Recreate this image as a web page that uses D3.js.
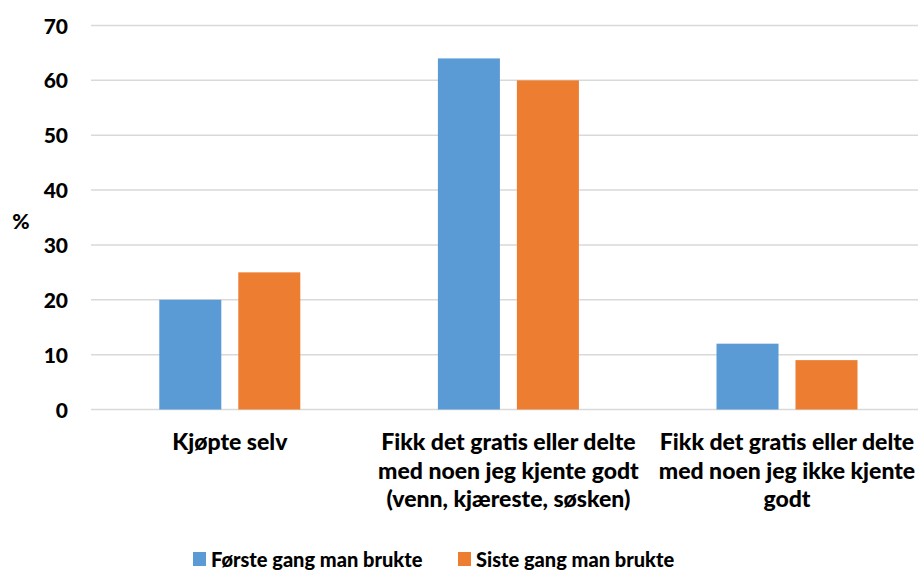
<!DOCTYPE html>
<html>
<head>
<meta charset="utf-8">
<script src="https://cdn.jsdelivr.net/npm/d3@7"></script>
<style>
  body { margin: 0; background: #fff; }
  text { font-family: Lato, "Open Sans", sans-serif; font-weight: 900; fill: #000; }
</style>
</head>
<body>
<div id="chart"></div>
<script>
// data
var categories = [
    ["Kjøpte selv"],
    ["Fikk det gratis eller delte", "med noen jeg kjente godt", "(venn, kjæreste, søsken)"],
    ["Fikk det gratis eller delte", "med noen jeg ikke kjente", "godt"]
];
var seriesNames = ["Første gang man brukte", "Siste gang man brukte"];
var firstTime = [20, 64, 12];
var lastTime = [25, 60, 9];
var yTicks = [0, 10, 20, 30, 40, 50, 60, 70];
var colors = ["#5B9BD5", "#ED7D31"];

var width = 918, height = 571;

var svg = d3.select("#chart")
    .append("svg")
    .attr("width", width)
    .attr("height", height);

var catIdx = categories.map(function(d, i) { return i; });

// x scales
var step = 278.6;
var x0 = d3.scaleBand()
    .domain(catIdx)
    .range([90.5, 90.5 + step * categories.length])
    .padding(0);

var x1 = d3.scaleBand()
    .domain([0, 1])
    .range([0, x0.bandwidth()])
    .paddingInner(0.215)
    .paddingOuter(0.871);

// y scale
var y = d3.scaleLinear()
    .domain([0, 70])
    .range([409.5, 25.5]);

// gridlines
svg.append("g")
    .selectAll("line")
    .data(yTicks)
    .enter()
    .append("line")
    .attr("x1", 91)
    .attr("x2", width)
    .attr("y1", function(d) { return y(d); })
    .attr("y2", function(d) { return y(d); })
    .style("stroke", "#d9d9d9")
    .style("stroke-width", 1.5);

// y axis labels
var yAxis = svg.append("g")
    .attr("transform", "translate(76,0)")
    .call(d3.axisLeft(y).tickValues(yTicks).tickSize(0).tickPadding(8));
yAxis.select(".domain").remove();
yAxis.selectAll("text")
    .style("font-family", "Lato, sans-serif")
    .style("font-weight", "900")
    .style("font-size", "21px")
    .style("fill", "#000")
    .attr("dy", "0.36em");

svg.append("text")
    .attr("x", 21)
    .attr("y", 229)
    .attr("text-anchor", "middle")
    .style("font-size", "21px")
    .text("%");

// bars
var rows = catIdx.map(function(i) {
    return {cat: i, values: [firstTime[i], lastTime[i]]};
});

var groups = svg.selectAll(".grp")
    .data(rows)
    .enter()
    .append("g")
    .attr("class", "grp")
    .attr("transform", function(d) { return "translate(" + x0(d.cat) + ",0)"; });

groups.selectAll("rect")
    .data(function(d) { return d.values.map(function(v, k) { return {k: k, v: v}; }); })
    .enter()
    .append("rect")
    .attr("x", function(d) { return x1(d.k); })
    .attr("y", function(d) { return y(d.v); })
    .attr("width", x1.bandwidth())
    .attr("height", function(d) { return y(0) - y(d.v); })
    .style("fill", function(d) { return colors[d.k]; });

// category labels
var catLabels = svg.selectAll(".cat")
    .data(rows)
    .enter()
    .append("text")
    .attr("class", "cat")
    .attr("text-anchor", "middle")
    .style("font-size", "23px")
    .attr("transform", function(d) { return "translate(" + (x0(d.cat) + x0.bandwidth() / 2) + ",450)"; });

catLabels.selectAll("tspan")
    .data(function(d) { return categories[d.cat]; })
    .enter()
    .append("tspan")
    .attr("x", 0)
    .attr("y", function(d, i) { return i * 28.5; })
    .text(function(d) { return d; });

// legend
var legendX = [193, 458];
var legend = svg.selectAll(".leg")
    .data(seriesNames)
    .enter()
    .append("g")
    .attr("class", "leg")
    .attr("transform", function(d, i) { return "translate(" + legendX[i] + ",552)"; });

legend.append("rect")
    .attr("width", 13)
    .attr("height", 14)
    .style("fill", function(d, i) { return colors[i]; });

legend.append("text")
    .attr("x", 18)
    .attr("y", 14.5)
    .style("font-size", "20px")
    .text(function(d) { return d; });
</script>
</body>
</html>
